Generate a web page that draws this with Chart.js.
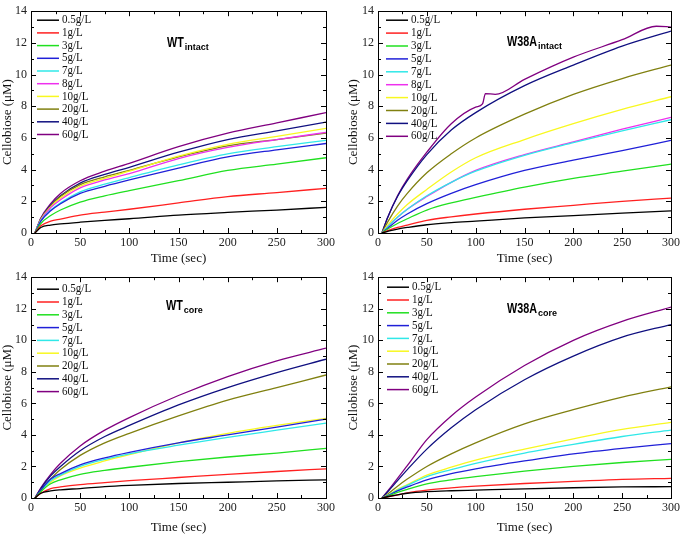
<!DOCTYPE html>
<html>
<head>
<meta charset="utf-8">
<script src="https://cdn.jsdelivr.net/npm/chart.js@4.4.1/dist/chart.umd.min.js"></script>
<style>
  html, body { margin: 0; padding: 0; background: #fff; }
  #wrap { position: relative; width: 683px; height: 535px; }
  .panel { position: absolute; }
</style>
</head>
<body>
<div id="wrap">
  <div class="panel" style="left:0;top:0;width:340px;height:266px"><canvas id="c1"></canvas></div>
  <div class="panel" style="left:340px;top:0;width:343px;height:266px"><canvas id="c2"></canvas></div>
  <div class="panel" style="left:0;top:266px;width:340px;height:269px"><canvas id="c3"></canvas></div>
  <div class="panel" style="left:340px;top:266px;width:343px;height:269px"><canvas id="c4"></canvas></div>
</div>
<script>
// sample times (sec) shared by most curves
const times = [4, 10, 20, 30, 50, 75, 100, 150, 200, 250, 300];

const labelsIntact = ['0.5g/L', '1g/L', '3g/L', '5g/L', '7g/L', '8g/L', '10g/L', '20g/L', '40g/L', '60g/L'];
const labelsCore = ['0.5g/L', '1g/L', '3g/L', '5g/L', '7g/L', '10g/L', '20g/L', '40g/L', '60g/L'];

const colorsIntact = ['#000000', '#ff2020', '#20e020', '#2020d8', '#30e8e8', '#ee30ee', '#f8f820', '#808010', '#101080', '#800080'];
const colorsCore = ['#000000', '#ff2020', '#20e020', '#2020d8', '#30e8e8', '#f8f820', '#808010', '#101080', '#800080'];

// WT intact
const wtIntact = [
  [0, 0.35, 0.5, 0.57, 0.68, 0.8, 0.9, 1.13, 1.3, 1.45, 1.62],
  [0, 0.45, 0.75, 0.88, 1.13, 1.32, 1.5, 1.9, 2.3, 2.55, 2.82],
  [0, 0.6, 1.1, 1.45, 1.95, 2.35, 2.68, 3.3, 3.95, 4.35, 4.75],
  [0, 0.75, 1.4, 1.85, 2.5, 2.95, 3.35, 4.1, 4.8, 5.25, 5.65],
  [0, 0.78, 1.45, 1.9, 2.6, 3.08, 3.5, 4.3, 5.0, 5.45, 5.85],
  [0, 0.82, 1.6, 2.1, 2.85, 3.35, 3.75, 4.7, 5.4, 5.9, 6.35],
  [0, 0.85, 1.65, 2.2, 2.95, 3.45, 3.9, 4.85, 5.6, 6.1, 6.6],
  [0, 0.88, 1.7, 2.3, 3.05, 3.55, 3.95, 4.8, 5.5, 5.9, 6.3],
  [0, 0.9, 1.75, 2.35, 3.15, 3.7, 4.15, 5.1, 5.9, 6.45, 7.0],
  [0, 0.95, 1.85, 2.5, 3.3, 3.9, 4.4, 5.45, 6.3, 6.95, 7.6]
];

// W38A intact (60g/L has its own times because of the jump near 110 s)
const w38aIntact = [
  [0, 0.1, 0.25, 0.35, 0.52, 0.65, 0.75, 0.95, 1.1, 1.25, 1.4],
  [0, 0.15, 0.35, 0.5, 0.8, 1.02, 1.2, 1.5, 1.75, 2.0, 2.2],
  [0, 0.25, 0.6, 0.9, 1.45, 1.9, 2.25, 2.9, 3.45, 3.9, 4.35],
  [0, 0.3, 0.8, 1.2, 1.85, 2.5, 3.05, 3.95, 4.6, 5.2, 5.85],
  [0, 0.4, 1.0, 1.5, 2.35, 3.2, 3.9, 4.9, 5.7, 6.45, 7.15],
  [0, 0.4, 1.0, 1.5, 2.3, 3.2, 3.95, 4.95, 5.75, 6.55, 7.3],
  [0, 0.5, 1.2, 1.8, 2.75, 3.85, 4.75, 5.9, 6.9, 7.8, 8.6],
  [0, 0.7, 1.7, 2.5, 3.8, 5.0, 6.0, 7.5, 8.75, 9.75, 10.6],
  [0, 1.0, 2.3, 3.3, 4.95, 6.5, 7.6, 9.3, 10.6, 11.8, 12.75]
];
const w38aIntact60Times = [4, 10, 20, 30, 50, 75, 100, 107, 110, 120, 150, 200, 250, 285, 300];
const w38aIntact60 = [0, 1.0, 2.35, 3.4, 5.1, 6.9, 7.95, 8.15, 8.8, 8.75, 9.7, 11.1, 12.2, 13.05, 13.0];

// WT core
const wtCore = [
  [0, 0.3, 0.45, 0.52, 0.6, 0.72, 0.8, 0.92, 1.0, 1.08, 1.15],
  [0, 0.3, 0.6, 0.7, 0.85, 0.98, 1.1, 1.3, 1.5, 1.68, 1.85],
  [0, 0.4, 0.9, 1.15, 1.5, 1.75, 1.95, 2.3, 2.6, 2.85, 3.15],
  [0, 0.5, 1.2, 1.55, 2.1, 2.55, 2.9, 3.5, 4.0, 4.5, 5.0],
  [0, 0.45, 1.1, 1.45, 2.0, 2.45, 2.8, 3.35, 3.85, 4.3, 4.75],
  [0, 0.4, 1.0, 1.4, 1.9, 2.35, 2.75, 3.5, 4.1, 4.6, 5.05],
  [0, 0.5, 1.2, 1.8, 2.7, 3.5, 4.1, 5.2, 6.2, 7.0, 7.8],
  [0, 0.6, 1.4, 2.0, 3.0, 3.9, 4.6, 5.9, 7.0, 7.95, 8.8],
  [0, 0.65, 1.5, 2.2, 3.3, 4.3, 5.1, 6.5, 7.7, 8.7, 9.5]
];

// W38A core
const w38aCore = [
  [0, 0.08, 0.2, 0.3, 0.4, 0.46, 0.5, 0.58, 0.65, 0.7, 0.72],
  [0, 0.08, 0.2, 0.33, 0.5, 0.64, 0.75, 0.92, 1.05, 1.18, 1.25],
  [0, 0.12, 0.35, 0.55, 0.9, 1.15, 1.35, 1.7, 2.0, 2.25, 2.45],
  [0, 0.15, 0.45, 0.7, 1.15, 1.55, 1.85, 2.35, 2.8, 3.15, 3.45],
  [0, 0.17, 0.5, 0.8, 1.35, 1.8, 2.2, 2.85, 3.4, 3.9, 4.3],
  [0, 0.18, 0.55, 0.85, 1.45, 1.95, 2.4, 3.1, 3.75, 4.35, 4.8],
  [0, 0.25, 0.75, 1.2, 2.0, 2.8, 3.5, 4.7, 5.6, 6.4, 7.05],
  [0, 0.4, 1.1, 1.8, 3.1, 4.45, 5.6, 7.5, 9.0, 10.2, 11.0],
  [0, 0.45, 1.25, 2.05, 3.7, 5.2, 6.4, 8.4, 10.0, 11.2, 12.1]
];

const yTicks = [0, 2, 4, 6, 8, 10, 12, 14];
const xTicks = [0, 50, 100, 150, 200, 250, 300];

function toPoints(ts, vals) {
  return vals.map(function(v, i) { return { x: ts[i], y: v }; });
}

// inward ticks on all four sides + frame
const frameTicks = {
  id: 'frameTicks',
  afterDatasetsDraw: function(chart) {
    const a = chart.chartArea, ctx = chart.ctx;
    const xs = chart.scales.x, ys = chart.scales.y;
    ctx.save();
    ctx.strokeStyle = '#000';
    ctx.lineWidth = 1;
    ctx.beginPath();
    for (let v = 0; v <= 300; v += 25) {
      const px = Math.round(xs.getPixelForValue(v)) + 0.5;
      const len = v % 50 === 0 ? 5 : 3;
      ctx.moveTo(px, a.bottom); ctx.lineTo(px, a.bottom - len);
      ctx.moveTo(px, a.top); ctx.lineTo(px, a.top + len);
    }
    for (let v = 0; v <= 14; v += 1) {
      const py = Math.round(ys.getPixelForValue(v)) + 0.5;
      const len = v % 2 === 0 ? 5 : 3;
      ctx.moveTo(a.left, py); ctx.lineTo(a.left + len, py);
      ctx.moveTo(a.right, py); ctx.lineTo(a.right - len, py);
    }
    ctx.stroke();
    ctx.strokeRect(Math.round(a.left) + 0.5, Math.round(a.top) + 0.5,
      Math.round(a.right - a.left), Math.round(a.bottom - a.top));
    ctx.restore();
  }
};

// Origin-style legend and panel title
const panelDecor = {
  id: 'panelDecor',
  afterDraw: function(chart, args, opts) {
    const a = chart.chartArea, ctx = chart.ctx;
    ctx.save();
    ctx.font = '12px "Liberation Serif", "Times New Roman", serif';
    ctx.textBaseline = 'middle';
    chart.data.datasets.forEach(function(ds, i) {
      const y = a.top + opts.legY + i * opts.legGap;
      ctx.strokeStyle = ds.borderColor;
      ctx.lineWidth = 1.5;
      ctx.beginPath();
      ctx.moveTo(a.left + opts.legX, y);
      ctx.lineTo(a.left + opts.legX + 22, y);
      ctx.stroke();
      ctx.fillStyle = '#111';
      ctx.save();
      ctx.translate(a.left + opts.legX + 25, y);
      ctx.scale(0.92, 1);
      ctx.fillText(ds.label, 0, 0);
      ctx.restore();
    });
    // title
    ctx.fillStyle = '#000';
    ctx.textBaseline = 'alphabetic';
    ctx.save();
    ctx.translate(opts.titleX, opts.titleY);
    ctx.scale(0.72, 1);
    ctx.font = 'bold 15px "Liberation Sans", Arial, sans-serif';
    ctx.fillText(opts.title, 0, 0);
    const w = ctx.measureText(opts.title).width * 0.72;
    ctx.restore();
    ctx.font = 'bold 9px "Liberation Sans", Arial, sans-serif';
    ctx.fillText(opts.sub, opts.titleX + w + 1, opts.titleY + 3);
    ctx.restore();
  }
};

function makePanel(id, labels, colors, series, extra, cfg) {
  const datasets = series.map(function(vals, i) {
    return {
      label: labels[i],
      data: toPoints(times, vals),
      borderColor: colors[i],
      borderWidth: 1.3,
      pointRadius: 0,
      fill: false,
      cubicInterpolationMode: 'monotone'
    };
  });
  if (extra) {
    datasets.push({
      label: labels[series.length],
      data: toPoints(extra.t, extra.v),
      borderColor: colors[series.length],
      borderWidth: 1.3,
      pointRadius: 0,
      fill: false,
      cubicInterpolationMode: 'monotone'
    });
  }
  const serif = '"Liberation Serif", "Times New Roman", serif';
  new Chart(document.getElementById(id).getContext('2d'), {
    type: 'line',
    data: { datasets: datasets },
    plugins: [frameTicks, panelDecor],
    options: {
      responsive: true,
      maintainAspectRatio: false,
      animation: false,
      events: [],
      layout: { padding: { left: cfg.padLeft, right: cfg.padRight, top: cfg.padTop, bottom: 0 } },
      plugins: {
        legend: { display: false },
        tooltip: { enabled: false },
        panelDecor: cfg.decor
      },
      scales: {
        x: {
          type: 'linear', min: 0, max: 300,
          afterBuildTicks: function(s) { s.ticks = xTicks.map(function(v) { return { value: v }; }); },
          afterFit: function(s) { s.height = cfg.xHeight; },
          grid: { display: false, drawTicks: false },
          border: { display: false },
          ticks: { color: '#222', padding: 3, maxRotation: 0, font: { family: serif, size: 12 } },
          title: { display: true, text: 'Time (sec)', color: '#111', padding: 0, font: { family: serif, size: 13 } }
        },
        y: {
          type: 'linear', min: 0, max: 14,
          afterBuildTicks: function(s) { s.ticks = yTicks.map(function(v) { return { value: v }; }); },
          afterFit: function(s) { s.width = cfg.yWidth; },
          grid: { display: false, drawTicks: false },
          border: { display: false },
          ticks: { color: '#222', padding: 4, font: { family: serif, size: 12 } },
          title: { display: true, text: 'Cellobiose (\u03bcM)', color: '#111', padding: 0, font: { family: serif, size: 13 } }
        }
      }
    }
  });
}

makePanel('c1', labelsIntact, colorsIntact, wtIntact, null, {
  padLeft: 0, padRight: 14, padTop: 6, yWidth: 31, xHeight: 33,
  decor: { legX: 6, legY: 9, legGap: 12.7, title: 'WT', sub: 'intact', titleX: 167, titleY: 47 }
});
makePanel('c2', labelsIntact, colorsIntact, w38aIntact, { t: w38aIntact60Times, v: w38aIntact60 }, {
  padLeft: 6, padRight: 9, padTop: 6, yWidth: 32, xHeight: 33,
  decor: { legX: 8, legY: 9, legGap: 12.9, title: 'W38A', sub: 'intact', titleX: 167, titleY: 46 }
});
makePanel('c3', labelsCore, colorsCore, wtCore, null, {
  padLeft: 0, padRight: 14, padTop: 6, yWidth: 31, xHeight: 37,
  decor: { legX: 6, legY: 12, legGap: 12.8, title: 'WT', sub: 'core', titleX: 166, titleY: 44 }
});
makePanel('c4', labelsCore, colorsCore, w38aCore, null, {
  padLeft: 6, padRight: 9, padTop: 7, yWidth: 32, xHeight: 37,
  decor: { legX: 9, legY: 10, legGap: 12.8, title: 'W38A', sub: 'core', titleX: 167, titleY: 47 }
});
</script>
</body>
</html>
